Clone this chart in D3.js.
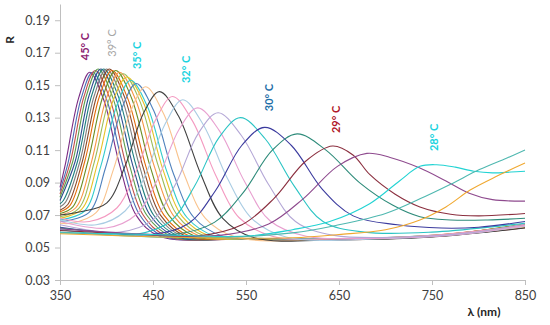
<!DOCTYPE html>
<html>
<head>
<meta charset="utf-8">
<script src="https://cdn.jsdelivr.net/npm/d3@7"></script>
<style>
  body { margin: 0; background: #fff; }
  text { font-family: Lato, "Open Sans", sans-serif; }
</style>
</head>
<body>
<div id="chart"></div>
<script>
// axis ticks
const xTicks = [350, 450, 550, 650, 750, 850]
const yTicks = [0.03, 0.05, 0.07, 0.09, 0.11, 0.13, 0.15, 0.17, 0.19]

// reflectance spectra, [wavelength nm, R]
const spectra = [
  [[350,0.087],[356,0.102],[370,0.142],[382,0.158],[397,0.141],[414.5,0.100],[432,0.0698],[457,0.057],[550,0.0555],[650,0.055],[750,0.057],[850,0.0625]],
  [[350,0.085],[358.6,0.102],[372.8,0.142],[385,0.158],[400.2,0.141],[418,0.100],[435.8,0.070],[461.2,0.057],[550,0.0555],[650,0.055],[750,0.057],[850,0.063]],
  [[350,0.083],[361.1,0.1026],[375.6,0.1427],[388,0.159],[403.4,0.142],[421.4,0.100],[439.4,0.070],[465.1,0.057],[550,0.0552],[650,0.0548],[750,0.0568],[850,0.0622]],
  [[350,0.081],[363.7,0.103],[378.4,0.1435],[391,0.160],[406.7,0.1425],[424.9,0.1005],[443.2,0.070],[469.3,0.057],[550,0.0555],[650,0.055],[750,0.0572],[850,0.0635]],
  [[350,0.079],[366.3,0.103],[381.2,0.1435],[394,0.160],[409.8,0.1425],[428.3,0.1005],[446.8,0.070],[473.2,0.057],[550,0.0553],[650,0.0548],[750,0.057],[850,0.064]],
  [[350,0.077],[353.6,0.079],[368.8,0.103],[384,0.1435],[397,0.160],[413.1,0.1425],[431.8,0.1005],[450.6,0.070],[477.4,0.057],[550,0.0555],[650,0.0552],[750,0.0575],[850,0.0628]],
  [[350,0.075],[356,0.078],[371.4,0.103],[386.8,0.1435],[400,0.160],[416.3,0.1425],[435.4,0.1005],[454.4,0.070],[481.6,0.057],[550,0.0555],[650,0.055],[750,0.057],[850,0.0632]],
  [[350,0.073],[358.4,0.0765],[374,0.103],[389.6,0.1435],[403,0.160],[419.5,0.1425],[438.8,0.1005],[458,0.070],[485.5,0.057],[550,0.0553],[650,0.0548],[750,0.0567],[850,0.0625]],
  [[350,0.072],[360.8,0.076],[376.6,0.103],[392.4,0.143],[406,0.159],[422.7,0.142],[442.3,0.100],[461.8,0.070],[489.7,0.057],[550,0.0556],[650,0.0552],[750,0.0573],[850,0.064]],
  [[350,0.071],[363.8,0.075],[380,0.103],[396.1,0.143],[410,0.159],[427,0.142],[446.9,0.100],[466.8,0.070],[495.2,0.057],[550,0.0555],[650,0.055],[750,0.057],[850,0.0645]],
  [[350,0.070],[367,0.0745],[383.5,0.102],[399.9,0.142],[414,0.158],[431.3,0.141],[451.4,0.100],[471.6,0.070],[500.4,0.057],[560,0.0555],[650,0.0552],[750,0.0575],[850,0.0638]],
  [[350,0.069],[370,0.074],[386.8,0.1025],[403.6,0.1425],[418,0.157],[435.6,0.1405],[456.1,0.0995],[476.6,0.0695],[505.9,0.057],[560,0.0556],[650,0.0553],[750,0.0572],[850,0.0632]],
  [[350,0.068],[373.2,0.0735],[390.3,0.1017],[407.4,0.141],[422,0.155],[439.9,0.139],[460.7,0.098],[481.6,0.069],[511.4,0.057],[570,0.0555],[650,0.0552],[750,0.057],[850,0.0628]],
  [[350,0.067],[376.4,0.0725],[393.8,0.100],[411.1,0.1375],[426,0.153],[444.2,0.1365],[465.4,0.096],[486.6,0.0685],[516.9,0.057],[570,0.0556],[650,0.0553],[750,0.0572],[850,0.0636]],
  [[350,0.066],[381,0.0715],[398.9,0.099],[416.7,0.136],[432,0.151],[450.6,0.1345],[472.3,0.095],[494,0.0685],[525,0.057],[580,0.0555],[650,0.0552],[750,0.0571],[850,0.0634]],
  [[350,0.065],[362.2,0.065],[388.8,0.0715],[407.4,0.098],[426,0.134],[442,0.149],[461.3,0.1325],[483.9,0.0945],[506.4,0.068],[538.6,0.0565],[650,0.055],[750,0.057],[850,0.063]],
  [[350,0.070],[372.1,0.072],[400.4,0.0775],[420.2,0.1005],[440,0.133],[457,0.146],[477.4,0.131],[501.2,0.0955],[525,0.068],[559,0.056],[650,0.0548],[750,0.0565],[850,0.062]],
  [[350,0.068],[381.6,0.066],[411.4,0.0745],[432.3,0.0975],[453.1,0.129],[471,0.143],[492.4,0.128],[517.4,0.0945],[542.4,0.0685],[578.1,0.057],[650,0.0555],[750,0.0575],[850,0.0635]],
  [[350,0.067],[389,0.064],[420,0.0725],[441.7,0.0945],[463.4,0.1265],[482,0.141],[504.2,0.1255],[530.1,0.0925],[556,0.068],[593,0.0565],[700,0.0555],[780,0.058],[850,0.063]],
  [[350,0.066],[399.6,0.062],[432.4,0.0705],[455.4,0.0925],[478.3,0.123],[498,0.136],[521.3,0.122],[548.6,0.0905],[575.8,0.0665],[614.7,0.057],[700,0.0558],[780,0.058],[850,0.0635]],
  [[350,0.064],[414.4,0.0595],[449.6,0.067],[474.2,0.089],[498.9,0.1205],[520,0.133],[545,0.119],[574.1,0.089],[603.2,0.066],[644.8,0.0575],[720,0.0565],[790,0.059],[850,0.0645]],
  [[350,0.061],[430.6,0.058],[468.4,0.066],[494.9,0.088],[521.3,0.118],[544,0.130],[570.6,0.117],[601.7,0.088],[632.8,0.066],[677.2,0.0595],[750,0.0595],[850,0.065]],
  [[350,0.0625],[447.9,0.058],[488.6,0.065],[517.1,0.085],[545.6,0.113],[570,0.124],[598.6,0.113],[631.9,0.086],[665.2,0.0695],[712.8,0.064],[760,0.062],[800,0.0625],[850,0.066]],
  [[350,0.062],[471.5,0.058],[516,0.0655],[547.2,0.084],[578.3,0.110],[605,0.120],[636,0.110],[672,0.090],[708,0.076],[737,0.069],[770,0.067],[810,0.067],[850,0.068]],
  [[350,0.0605],[440,0.058],[496.9,0.057],[545.6,0.064],[579.7,0.080],[613.8,0.103],[643,0.1125],[665,0.107],[683,0.095],[710,0.083],[737,0.075],[770,0.0705],[800,0.0695],[850,0.071]],
  [[350,0.0615],[450,0.058],[521.6,0.0575],[574.4,0.0645],[611.4,0.080],[648.3,0.100],[680,0.108],[705,0.1055],[737,0.099],[765,0.091],[790,0.0835],[815,0.0795],[850,0.0786]],
  [[350,0.059],[450,0.058],[550,0.057],[600,0.061],[640,0.066],[683,0.077],[715,0.091],[737,0.100],[755,0.101],[775,0.0995],[795,0.097],[815,0.096],[835,0.0965],[850,0.097]],
  [[350,0.0595],[500,0.056],[600,0.059],[650,0.064],[700,0.071],[737,0.080],[770,0.089],[801,0.098],[830,0.105],[850,0.110]],
  [[350,0.0585],[500,0.056],[600,0.056],[650,0.058],[700,0.061],[737,0.067],[765,0.075],[791,0.0854],[820,0.094],[850,0.102]]
]

const seriesColors = [
  '#7B2C83', '#4A6FB5', '#C0504D', '#5F9E4E', '#2E4E8F', '#1F7F7F', '#7F7F7F', '#8B4A2B',
  '#E46C0A', '#6B8E23', '#F79646', '#9BBB59', '#E6C229', '#33CCCC', '#4F81BD', '#F9C38D',
  '#404040', '#F49AC1', '#A9CCE3', '#E8A0D0', '#B4A7D6', '#2BC4C4', '#3B3B9E', '#2E8B7A',
  '#8B2F3F', '#8E4A8E', '#22D3D3', '#4FB8B0', '#F0A830'
]

// temperature annotations
const tempLabels = ['45° C', '39° C', '35° C', '32° C', '30° C', '29° C', '28° C']
const tempNm = [377, 406, 433, 485.5, 574.7, 646.8, 752.2]
const tempR = [0.1738, 0.176, 0.1683, 0.1597, 0.1424, 0.1289, 0.1178]
const tempColors = ['#8B1C70', '#A6A6A6', '#1CD3E0', '#1CD3E0', '#1F6FA8', '#B0182A', '#1CD3E0']

const width = 550
const height = 325

const svg = d3.select('#chart')
  .append('svg')
  .attr('width', width)
  .attr('height', height)
  .style('background-color', '#fff')

const xScale = d3.scaleLinear()
  .domain([350, 850])
  .range([60, 525])

const yScale = d3.scaleLinear()
  .domain([0.03, 0.20])
  .range([280, 4])

const line = d3.line()
  .x(d => xScale(d[0]))
  .y(d => yScale(d[1]))
  .curve(d3.curveCatmullRom.alpha(0.5))

// axes
svg.append('g')
  .attr('transform', `translate(0,${yScale(0.03)})`)
  .call(d3.axisBottom(xScale).tickValues(xTicks).tickSize(5).tickSizeOuter(0).tickPadding(6))
svg.append('g')
  .attr('transform', `translate(${xScale(350)},0)`)
  .call(d3.axisLeft(yScale).tickValues(yTicks).tickFormat(d3.format('.2f')).tickSize(5).tickSizeOuter(0).tickPadding(5))

svg.selectAll('.domain, .tick line').attr('stroke', '#BFBFBF')
svg.selectAll('.tick text')
  .attr('fill', '#404040')
  .style('font-size', '12.5px')

svg.selectAll('path.spectrum')
  .data(spectra)
  .enter()
  .append('path')
  .attr('class', 'spectrum')
  .attr('d', line)
  .attr('fill', 'none')
  .attr('stroke', (d, i) => seriesColors[i])
  .attr('stroke-width', 1.1)

// labels
svg.append('text')
  .attr('transform', 'translate(14,40) rotate(-90)')
  .attr('text-anchor', 'middle')
  .style('font-size', '12px')
  .style('font-weight', 'bold')
  .attr('fill', '#262626')
  .text('R')

svg.append('text')
  .attr('x', 484)
  .attr('y', 316)
  .attr('text-anchor', 'middle')
  .style('font-size', '12px')
  .style('font-weight', 'bold')
  .attr('fill', '#262626')
  .text('λ (nm)')

svg.selectAll('text.temp')
  .data(tempLabels)
  .enter()
  .append('text')
  .attr('class', 'temp')
  .attr('transform', (d, i) => `translate(${xScale(tempNm[i])},${yScale(tempR[i])}) rotate(-90)`)
  .attr('text-anchor', 'middle')
  .attr('dy', '0.35em')
  .style('font-size', '11px')
  .style('font-weight', (d, i) => i === 1 ? 'normal' : 'bold')
  .attr('fill', (d, i) => tempColors[i])
  .text(d => d)
</script>
</body>
</html>
